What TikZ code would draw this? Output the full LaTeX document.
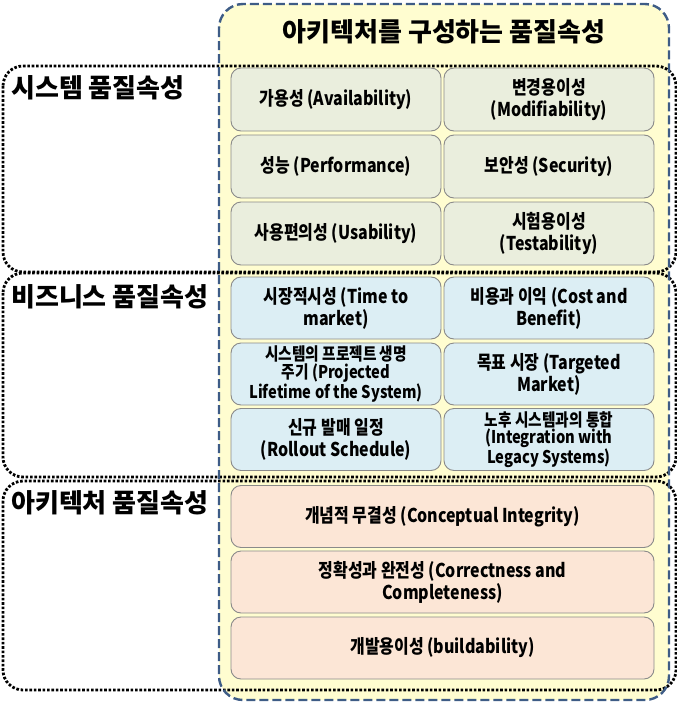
\documentclass[tikz,border=0pt]{standalone}
\usepackage{fontspec}
\setmainfont{Noto Sans CJK KR}
\newfontfamily\condfont{Noto Sans CJK KR}[FakeStretch=0.84]
\definecolor{outerfill}{HTML}{FFFDD0}
\definecolor{outerline}{HTML}{3E5C86}
\definecolor{sysfill}{HTML}{EAEEDD}
\definecolor{busfill}{HTML}{DCEEF4}
\definecolor{archfill}{HTML}{FCE6D6}
\definecolor{boxline}{HTML}{8A8A8A}
\tikzset{
  qbox/.style={draw=boxline, line width=0.9pt, rounded corners=10pt, align=center,
    inner sep=1pt, font=\condfont\bfseries\fontsize{19}{22}\selectfont},
  small/.style={font=\condfont\bfseries\fontsize{17.5}{17.5}\selectfont},
  region/.style={line width=2.8pt, dash pattern=on 2.6pt off 1.8pt, rounded corners=20pt},
  grouplabel/.style={anchor=west, inner sep=0pt, font=\bfseries\fontsize{26}{28}\selectfont},
}
\begin{document}
\begin{tikzpicture}[x=1pt, y=-1pt]
\useasboundingbox (0,0) rectangle (677,704);
% container for all quality attributes
\path[fill=outerfill, rounded corners=24pt] (219,4) rectangle (669,700);
\node[font=\bfseries\fontsize{26}{28}\selectfont] (title) at (444,32) {아키텍처를 구성하는 품질속성};
% the three groups
\draw[region] (3,66) rectangle (676,272);
\draw[region] (3,273) rectangle (676,477);
\draw[region] (3,481) rectangle (676,690);
\node[grouplabel] (lsys) at (11,88) {시스템 품질속성};
\node[grouplabel] (lbus) at (11,297) {비즈니스 품질속성};
\node[grouplabel] (larch) at (11,503) {아키텍처 품질속성};
% system quality attributes
\begin{scope}[every node/.style={qbox, fill=sysfill, minimum width=210pt, minimum height=63pt}]
\node (avail) at (336,99.5) {가용성 (Availability)};
\node (modif) at (549,99.5) {변경용이성\\(Modifiability)};
\node (perf) at (336,166.5) {성능 (Performance)};
\node (secu) at (549,166.5) {보안성 (Security)};
\node (usab) at (336,233.5) {사용편의성 (Usability)};
\node (test) at (549,233.5) {시험용이성\\(Testability)};
\end{scope}
% business quality attributes
\begin{scope}[every node/.style={qbox, fill=busfill, minimum width=210pt, minimum height=62pt}]
\node (ttm) at (336,308) {시장적시성 (Time to\\market)};
\node (cost) at (549,308) {비용과 이익 (Cost and\\Benefit)};
\node[small] (life) at (336,374) {시스템의 프로젝트 생명\\주기 (Projected\\Lifetime of the System)};
\node (market) at (549,374) {목표 시장 (Targeted\\Market)};
\node (roll) at (336,439.5) {신규 발매 일정\\(Rollout Schedule)};
\node[small] (legacy) at (549,439.5) {노후 시스템과의 통합\\(Integration with\\Legacy Systems)};
\end{scope}
% architecture quality attributes
\begin{scope}[every node/.style={qbox, fill=archfill, minimum width=423pt, minimum height=62pt}]
\node (integ) at (442.5,516.5) {개념적 무결성 (Conceptual Integrity)};
\node (correct) at (442.5,582) {정확성과 완전성 (Correctness and\\Completeness)};
\node (build) at (442.5,648) {개발용이성 (buildability)};
\end{scope}
% dashed outline of the container
\draw[outerline, line width=2.4pt, dash pattern=on 9pt off 4pt, rounded corners=24pt] (219,4) rectangle (669,700);
\end{tikzpicture}
\end{document}
